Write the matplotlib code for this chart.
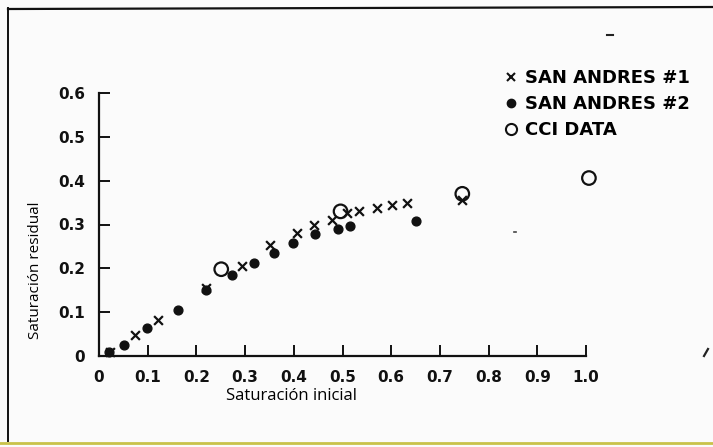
import matplotlib
matplotlib.use("Agg")
import matplotlib.pyplot as plt
from matplotlib.lines import Line2D

# Data
sa1_x = [0.022, 0.073, 0.122, 0.220, 0.294, 0.352, 0.407, 0.442, 0.479, 0.510, 0.533, 0.571, 0.601, 0.632, 0.746]
sa1_y = [0.010, 0.048, 0.082, 0.155, 0.205, 0.253, 0.281, 0.300, 0.311, 0.326, 0.330, 0.337, 0.345, 0.349, 0.355]
sa2_x = [0.020, 0.052, 0.098, 0.162, 0.220, 0.273, 0.318, 0.360, 0.398, 0.444, 0.490, 0.515, 0.650]
sa2_y = [0.008, 0.025, 0.063, 0.105, 0.150, 0.185, 0.212, 0.236, 0.257, 0.278, 0.290, 0.297, 0.309]
cci_x = [0.251, 0.496, 0.746, 1.006]
cci_y = [0.198, 0.330, 0.370, 0.406]

xticks = [0, 0.1, 0.2, 0.3, 0.4, 0.5, 0.6, 0.7, 0.8, 0.9, 1.0]
xticklabels = ["0", "0.1", "0.2", "0.3", "0.4", "0.5", "0.6", "0.7", "0.8", "0.9", "1.0"]
yticks = [0, 0.1, 0.2, 0.3, 0.4, 0.5, 0.6]
yticklabels = ["0", "0.1", "0.2", "0.3", "0.4", "0.5", "0.6"]
legend_labels = ["SAN ANDRES #1", "SAN ANDRES #2", "CCI DATA"]

W, H = 713, 447
fig = plt.figure(figsize=(W / 100, H / 100), dpi=100, facecolor="#fbfbfb")

ax = fig.add_axes([99 / W, (H - 356) / H, (586 - 99) / W, (356 - 93) / H])
ax.set_facecolor("none")
ax.set_xlim(0, 1.0)
ax.set_ylim(0, 0.6)
ax.spines["top"].set_visible(False)
ax.spines["right"].set_visible(False)
for s in ("left", "bottom"):
    ax.spines[s].set_linewidth(1.6)
    ax.spines[s].set_color("#111111")

tickfont = dict(family="DejaVu Sans", weight="bold", size=11)
ax.set_xticks(xticks)
ax.set_xticklabels(xticklabels, fontdict=tickfont)
ax.set_yticks(yticks)
ax.set_yticklabels(yticklabels, fontdict=tickfont)
ax.tick_params(axis="both", direction="in", length=8, width=1.4, colors="#111111")
ax.tick_params(axis="x", pad=10)
ax.tick_params(axis="y", pad=10)

ax.scatter(sa2_x, sa2_y, marker="o", s=40, color="#111111", zorder=3, clip_on=False)
ax.scatter(sa1_x, sa1_y, marker="x", s=40, color="#111111", linewidths=1.6, zorder=4, clip_on=False)
ax.scatter(cci_x, cci_y, marker="o", s=95, facecolors="none", edgecolors="#111111",
           linewidths=1.6, zorder=5, clip_on=False)

ax.set_xlabel("Saturación inicial", family="Open Sans", size=12)
ax.xaxis.set_label_coords((291 - 99) / (586 - 99), -(388 - 356) / (356 - 93))
ax.set_ylabel("Saturación residual", family="Open Sans", size=11)
ax.yaxis.set_label_coords(-(99 - 43) / (586 - 99), (356 - 270) / (356 - 93))

handles = [
    Line2D([], [], marker="x", linestyle="none", color="#111111", markersize=6, markeredgewidth=1.5),
    Line2D([], [], marker="o", linestyle="none", color="#111111", markersize=6),
    Line2D([], [], marker="o", linestyle="none", markerfacecolor="none", markeredgecolor="#111111",
           markersize=8, markeredgewidth=1.5),
]
leg = fig.legend(handles, legend_labels, loc="upper left", bbox_to_anchor=(495 / W, 1 - 62 / H),
                 frameon=False, prop=dict(family="DejaVu Sans", weight="bold", size=13),
                 handletextpad=0.25, labelspacing=0.45, handlelength=1.0, borderaxespad=0)

# Scan frame around the figure
fig.add_artist(Line2D([8 / W, 1.0], [1 - 9 / H, 1 - 7 / H], color="#111111", lw=1.6, transform=fig.transFigure))
fig.add_artist(Line2D([8 / W, 8 / W], [1 - 8 / H, 1 - 441 / H], color="#111111", lw=1.4, transform=fig.transFigure))
fig.add_artist(Line2D([0, 1.0], [1 - 443 / H, 1 - 443 / H], color="#c9c24a", lw=2.0, transform=fig.transFigure))

# Small specks of the scan
fig.add_artist(Line2D([607 / W, 613 / W], [1 - 35 / H, 1 - 35 / H], color="#222222", lw=1.5, transform=fig.transFigure))
fig.add_artist(Line2D([514 / W, 516 / W], [1 - 232 / H, 1 - 232 / H], color="#444444", lw=1.2, transform=fig.transFigure))
fig.add_artist(Line2D([704 / W, 708 / W], [1 - 356 / H, 1 - 349 / H], color="#222222", lw=1.6, transform=fig.transFigure))

fig.savefig("out.png", dpi=100, facecolor=fig.get_facecolor())
